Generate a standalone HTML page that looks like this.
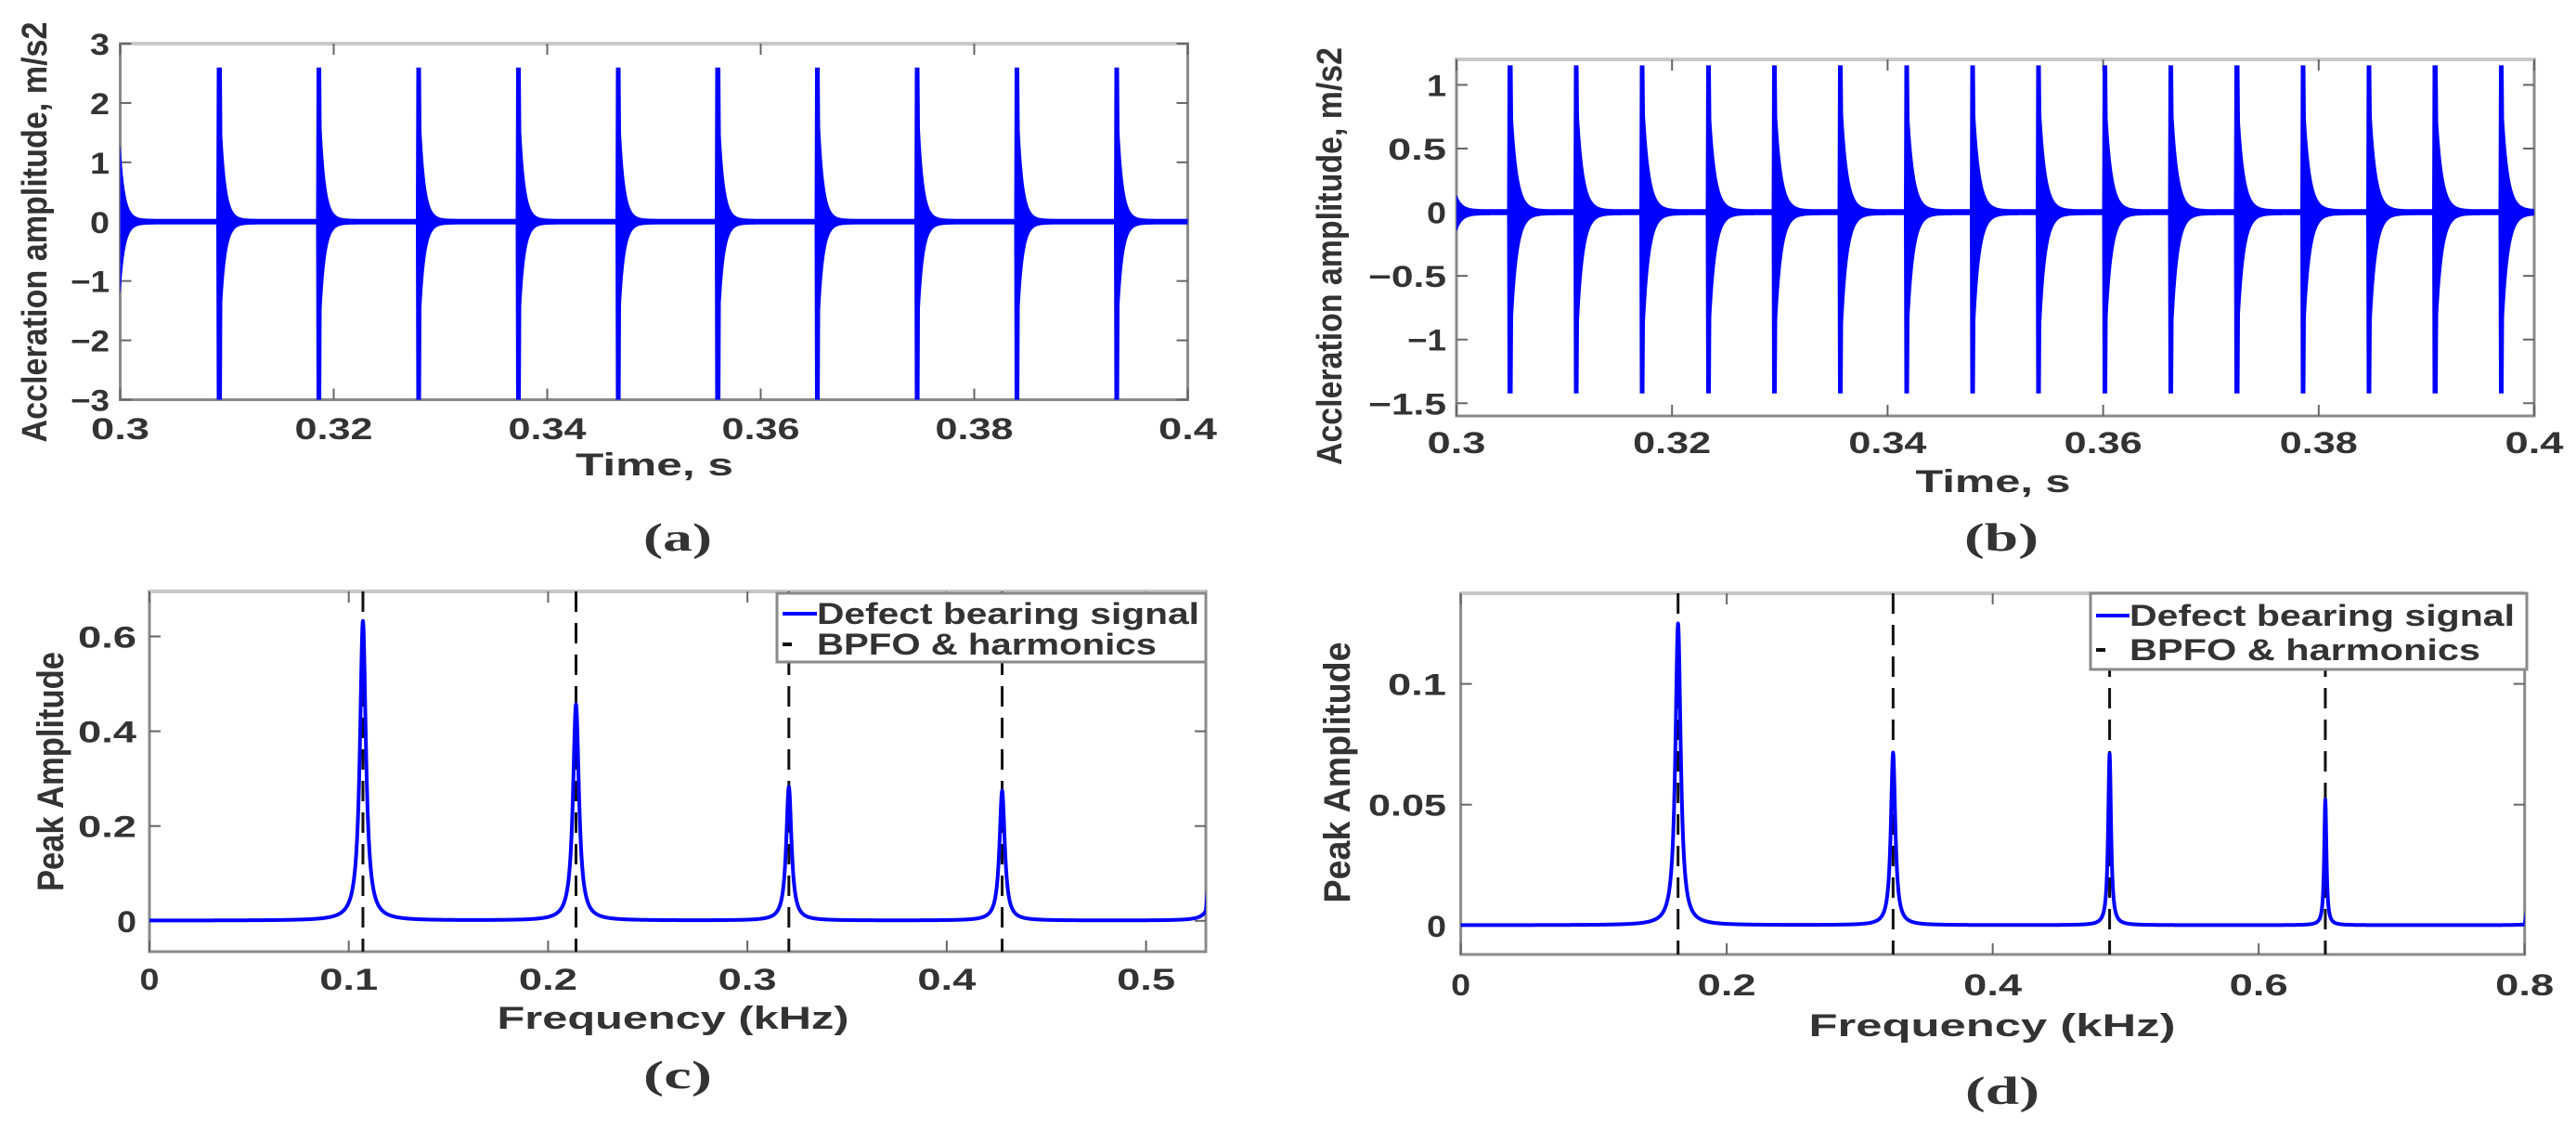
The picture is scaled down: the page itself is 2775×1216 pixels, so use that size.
<!DOCTYPE html>
<html><head><meta charset="utf-8"><style>
html,body{margin:0;padding:0;background:#fff;width:2775px;height:1216px;overflow:hidden}
svg{display:block}
text{font-family:"Liberation Sans",sans-serif;fill:#333}
</style></head><body>
<svg id="fig" xmlns="http://www.w3.org/2000/svg" width="2775" height="1216" viewBox="0 0 2775 1216"></svg>
<script>
// ---------- Panel (a) data ----------
const aImpacts = [0.2995,0.30908,0.31842,0.32776,0.33710,0.34644,0.35578,0.36512,0.37446,0.38380,0.39314];
const aPeakPos = 2.55, aPeakNeg = -3.2, aAfterPos = 1.55, aAfterNeg = -1.45, aTau = 0.00042, aWidth = 0.0004;
const aXTicks = [0.3,0.32,0.34,0.36,0.38,0.4];
const aXTickLabels = ["0.3","0.32","0.34","0.36","0.38","0.4"];
const aYTicks = [-3,-2,-1,0,1,2,3];
const aYTickLabels = ["\u22123","\u22122","\u22121","0","1","2","3"];
// ---------- Panel (b) data ----------
const bImpacts = [0.29865,0.30478,0.31091,0.31704,0.32317,0.32930,0.33543,0.34156,0.34769,0.35382,0.35995,0.36608,0.37221,0.37834,0.38447,0.39060,0.39673];
const bPeakPos = 1.13, bPeakNeg = -1.4, bAfterPos = 0.75, bAfterNeg = -0.85, bTau = 0.0005, bWidth = 0.0004;
const bXTicks = [0.3,0.32,0.34,0.36,0.38,0.4];
const bXTickLabels = ["0.3","0.32","0.34","0.36","0.38","0.4"];
const bYTicks = [-1.5,-1,-0.5,0,0.5,1];
const bYTickLabels = ["\u22121.5","\u22121","\u22120.5","0","0.5","1"];
// ---------- Panel (c) data ----------
const cPeakFreqs = [0.1071,0.2140,0.3208,0.4278,0.5350];
const cPeakAmps = [0.632,0.456,0.282,0.274,0.25];
const cPeakWidth = [0.0018,0.0018,0.0016,0.0016,0.0015];
const cBpfoLines = [0.1071,0.2140,0.3208,0.4278];
const cXTicks = [0,0.1,0.2,0.3,0.4,0.5];
const cXTickLabels = ["0","0.1","0.2","0.3","0.4","0.5"];
const cYTicks = [0,0.2,0.4,0.6];
const cYTickLabels = ["0","0.2","0.4","0.6"];
// ---------- Panel (d) data ----------
const dPeakFreqs = [0.1634,0.3251,0.4879,0.6501,0.8125];
const dPeakAmps = [0.1249,0.0714,0.071,0.052,0.05];
const dPeakWidth = [0.0024,0.002,0.0013,0.001,0.001];
const dBpfoLines = [0.1634,0.3251,0.4879,0.6501];
const dXTicks = [0,0.2,0.4,0.6,0.8];
const dXTickLabels = ["0","0.2","0.4","0.6","0.8"];
const dYTicks = [0,0.05,0.1];
const dYTickLabels = ["0","0.05","0.1"];

const NS = "http://www.w3.org/2000/svg";
const svg = document.getElementById("fig");
function mk(tag, attrs, parent){
  const e = document.createElementNS(NS, tag);
  for (const k in attrs) e.setAttribute(k, attrs[k]);
  (parent||svg).appendChild(e);
  return e;
}
function txt(str, x, y, size, anchor, len, parent, weight, family, rot){
  const t = mk("text", {x:x, y:y, "font-size":size, "text-anchor":anchor, "font-weight":weight||"bold"}, parent);
  if (family) t.setAttribute("style", "font-family:" + family);
  if (len) { t.setAttribute("textLength", len); t.setAttribute("lengthAdjust", "spacingAndGlyphs"); }
  if (rot) t.setAttribute("transform", "rotate(-90 " + x + " " + y + ")");
  t.textContent = str;
  return t;
}

function axes(id, box, xr, yr, xt, xtl, yt, ytl, xLblY, yLblRight, tickW){
  const g = mk("g", {});
  
  
  const sx = v => box.l + (v - xr[0]) / (xr[1] - xr[0]) * (box.r - box.l);
  const sy = v => box.b - (v - yr[0]) / (yr[1] - yr[0]) * (box.b - box.t);
  mk("rect", {x:box.l, y:box.t, width:box.r-box.l, height:box.b-box.t, fill:"none", stroke:"#8a8a8a", "stroke-width":3}, g);
  mk("line", {x1:box.l, y1:box.t, x2:box.r, y2:box.t, stroke:"#c8c8c8", "stroke-width":4}, g);
  xt.forEach((v,i) => {
    const x = sx(v);
    mk("line", {x1:x, y1:box.b, x2:x, y2:box.b-12, stroke:"#666", "stroke-width":2}, g);
    mk("line", {x1:x, y1:box.t, x2:x, y2:box.t+12, stroke:"#666", "stroke-width":2}, g);
    const t = txt(xtl[i], x, xLblY, 32, "middle", tickW * xtl[i].length, g);
    
    
  });
  yt.forEach((v,i) => {
    const y = sy(v);
    mk("line", {x1:box.l, y1:y, x2:box.l+12, y2:y, stroke:"#666", "stroke-width":2}, g);
    mk("line", {x1:box.r, y1:y, x2:box.r-12, y2:y, stroke:"#666", "stroke-width":2}, g);
    const t = txt(ytl[i], yLblRight, y + 12, 32, "end", tickW * ytl[i].length, g);
    
    
  });
  return {sx, sy, g};
}

function timePanel(id, box, xr, yr, impacts, pp, pn, ap, an, tau, w, band){
  const {sx, sy} = axes(id, box, xr, yr,
    id==="a"?aXTicks:bXTicks, id==="a"?aXTickLabels:bXTickLabels,
    id==="a"?aYTicks:bYTicks, id==="a"?aYTickLabels:bYTickLabels,
    id==="a"?473:488, id==="a"?118:1558, 21);
  const clipId = "clip" + id;
  const cp = mk("clipPath", {id:clipId});
  mk("rect", {x:box.l, y:box.t, width:box.r-box.l, height:box.b-box.t}, cp);
  const g = mk("g", {"clip-path":"url(#" + clipId + ")"});
  
  
  function env(t, sign){
    let v = band;
    impacts.forEach(ti => {
      const d = t - ti;
      if (d < 0) return;
      if (d <= w) v += (sign > 0 ? pp : -pn);
      else v += (sign > 0 ? ap : -an) * Math.exp(-(d - w) / tau);
    });
    return sign * v;
  }
  const N = Math.round(box.r - box.l) * 2;
  let up = [], dn = [];
  for (let i = 0; i <= N; i++){
    const t = xr[0] + (xr[1]-xr[0]) * i / N;
    up.push(sx(t).toFixed(1) + "," + sy(env(t,1)).toFixed(1));
    dn.push(sx(t).toFixed(1) + "," + sy(env(t,-1)).toFixed(1));
  }
  const p = mk("polygon", {points: up.concat(dn.reverse()).join(" "), fill:"#0000ff", stroke:"#0000ff", "stroke-width":1}, g);
  
  
  impacts.forEach(ti => {
    const r = mk("rect", {x:sx(ti), y:sy(pp), width:Math.max(2, sx(ti+w)-sx(ti)), height:sy(pn)-sy(pp), fill:"#0000ff"}, g);
    
    
  });
}

function specPanel(id, box, xr, yr, freqs, amps, gw, bpfo, xt, xtl, yt, ytl, xLblY, yLblRight, leg){
  const {sx, sy} = axes(id, box, xr, yr, xt, xtl, yt, ytl, xLblY, yLblRight, 21);
  const clipId = "clip" + id;
  const cp = mk("clipPath", {id:clipId});
  mk("rect", {x:box.l, y:box.t, width:box.r-box.l, height:box.b-box.t}, cp);
  const g = mk("g", {"clip-path":"url(#" + clipId + ")"});
  
  
  bpfo.forEach(f => {
    const l = mk("line", {x1:sx(f), y1:box.t, x2:sx(f), y2:box.b, stroke:"#111", "stroke-width":3, "stroke-dasharray":"22 12"}, g);
    
    
  });
  let fs = [];
  const N = Math.round(box.r - box.l) * 3;
  for (let i = 0; i <= N; i++) fs.push(xr[0] + (xr[1]-xr[0]) * i / N);
  freqs.forEach(f => fs.push(f));
  fs.sort((a,b) => a-b);
  const spec = f => { let v = 0.0008*(yr[1]); freqs.forEach((f0,k) => { const u = (f-f0)/gw[k]; v += amps[k]/(1+u*u); }); return v; };
  const pts = fs.map(f => sx(f).toFixed(2) + "," + sy(spec(f)).toFixed(2)).join(" ");
  const line = mk("polyline", {points:pts, fill:"none", stroke:"#0000ff", "stroke-width":4, "stroke-linejoin":"round"}, g);
  
  
  const lg = mk("g", {});
  
  
  mk("rect", {x:leg.x, y:leg.y, width:leg.w, height:leg.h, fill:"#fff", stroke:"#8a8a8a", "stroke-width":3}, lg);
  mk("line", {x1:leg.x+6, y1:leg.y1, x2:leg.tx, y2:leg.y1, stroke:"#0000ff", "stroke-width":4}, lg);
  mk("line", {x1:leg.x+6, y1:leg.y2, x2:leg.x+16, y2:leg.y2, stroke:"#111", "stroke-width":4}, lg);
  const t1 = txt("Defect bearing signal", leg.tx, leg.y1 + 11, 32, "start", leg.w1, lg);
  
  
  const t2 = txt("BPFO & harmonics", leg.tx, leg.y2 + 11, 32, "start", leg.w2, lg);
  
  
}

timePanel("a", {l:129.5, r:1279.5, t:47, b:430.5}, [0.3,0.4], [-3,3], aImpacts, aPeakPos, aPeakNeg, aAfterPos, aAfterNeg, aTau, aWidth, 0.04);
timePanel("b", {l:1569, r:2730, t:64, b:448}, [0.3,0.4], [-1.6,1.2], bImpacts, bPeakPos, bPeakNeg, bAfterPos, bAfterNeg, bTau, bWidth, 0.02);
specPanel("c", {l:161, r:1299, t:637, b:1025}, [0,0.53], [-0.065,0.695], cPeakFreqs, cPeakAmps, cPeakWidth, cBpfoLines,
  cXTicks, cXTickLabels, cYTicks, cYTickLabels, 1066, 147,
  {x:837, y:639, w:462, h:74, tx:880, y1:661, y2:694, w1:412, w2:366});
specPanel("d", {l:1573.6, r:2719.7, t:639, b:1028}, [0,0.8], [-0.012,0.1375], dPeakFreqs, dPeakAmps, dPeakWidth, dBpfoLines,
  dXTicks, dXTickLabels, dYTicks, dYTickLabels, 1072, 1558,
  {x:2252, y:639, w:470, h:82, tx:2294, y1:663, y2:700, w1:415, w2:378});

let t;
t = txt("Time, s", 705, 512, 34, "middle", 170);  
t = txt("Accleration amplitude, m/s2", 50, 250, 38, "middle", 453, null, "bold", null, true);  
t = txt("Time, s", 2147, 530, 34, "middle", 167);  
t = txt("Accleration amplitude, m/s2", 1445, 276, 38, "middle", 450, null, "bold", null, true);  
t = txt("Frequency (kHz)", 725, 1108, 34, "middle", 379);  
t = txt("Peak Amplitude", 68, 831, 40, "middle", 258, null, "bold", null, true);  
t = txt("Frequency (kHz)", 2146, 1116, 34, "middle", 395);  
t = txt("Peak Amplitude", 1454, 832, 40, "middle", 281, null, "bold", null, true);  
t = txt("(a)", 730, 593, 42, "middle", 74, null, "bold", "'Liberation Serif',serif");  
t = txt("(b)", 2156, 593, 42, "middle", 80, null, "bold", "'Liberation Serif',serif");  
t = txt("(c)", 730, 1172, 42, "middle", 74, null, "bold", "'Liberation Serif',serif");  
t = txt("(d)", 2157, 1189, 42, "middle", 80, null, "bold", "'Liberation Serif',serif");  
</script>
</body></html>
